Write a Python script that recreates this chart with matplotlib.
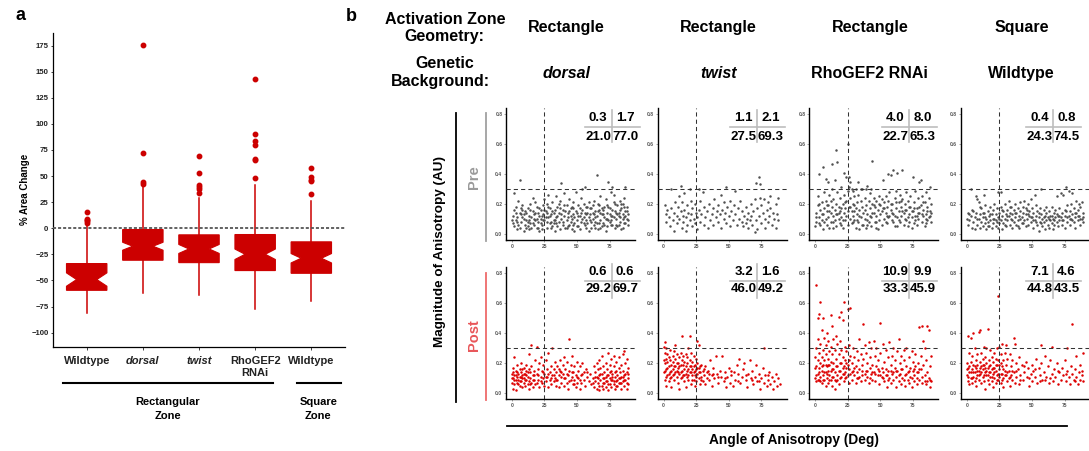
import numpy as np
import matplotlib.pyplot as plt
from matplotlib.lines import Line2D

plt.rcParams['font.family'] = ['Liberation Sans', 'DejaVu Sans']
plt.rcParams['font.weight'] = 'bold'

# ---------------- panel a: % area change ----------------
groups = ['Wildtype', 'dorsal', 'twist', 'RhoGEF2\nRNAi', 'Wildtype']
group_italic = [False, True, True, False, False]
q1 = [-59.4, -30.6, -32.9, -40.5, -43.1]
med = [-49.1, -17.2, -19.8, -24.9, -28.7]
q3 = [-33.8, -1.2, -6.3, -6.0, -13.0]
whislo = [-81, -62, -64, -77, -70]
whishi = [3, 39.3, 29.1, 41.8, 26.5]
notch = [6.4, 3.8, 4.3, 5.0, 4.5]
fliers = [
    [15.7, 9.3, 8.0, 6.5, 5.5],
    [175.3, 71.9, 44.1, 42.5],
    [69.3, 52.7, 41.2, 39.3, 37.7, 33.5],
    [143.4, 90.4, 83.7, 79.8, 66.4, 65.5, 48.5],
    [57.5, 48.9, 46.6, 45.0, 32.6],
]

# ---------------- panel b: anisotropy ----------------
col_geometry = ['Rectangle', 'Rectangle', 'Rectangle', 'Square']
col_background = ['dorsal', 'twist', 'RhoGEF2 RNAi', 'Wildtype']
background_italic = [True, True, False, False]

# quadrant percentages [[top-left, top-right], [bottom-left, bottom-right]]
pre_quad = [[[0.3, 1.7], [21.0, 77.0]], [[1.1, 2.1], [27.5, 69.3]],
            [[4.0, 8.0], [22.7, 65.3]], [[0.4, 0.8], [24.3, 74.5]]]
post_quad = [[[0.6, 0.6], [29.2, 69.7]], [[3.2, 1.6], [46.0, 49.2]],
             [[10.9, 9.9], [33.3, 45.9]], [[7.1, 4.6], [44.8, 43.5]]]

# (angle in deg, magnitude x 100)
pre_dorsal = [
    (1,12),(2,5),(2,27),(3,9),(3,18),(4,3),(4,11),(1,7),(5,22),(6,36),(6,4),(7,13),(7,8),(8,16),(9,2),(9,10),(8,19),
    (10,6),(11,14),(11,9),(12,17),(12,5),(13,12),(14,20),(14,7),(13,3),(15,11),(16,15),(16,24),(17,6),(17,13),(18,9),(19,18),(19,4),(18,21),
    (20,8),(21,12),(21,2),(22,16),(22,10),(23,6),(24,19),(24,13),(23,3),(25,23),(25,9),(26,15),(27,4),(27,20),(28,11),(29,7),(29,17),(28,26),
    (30,13),(31,5),(31,21),(32,9),(33,16),(33,2),(34,11),(34,25),(32,7),(35,18),(36,8),(36,14),(37,3),(37,22),(38,34),(38,10),(39,6),(39,16),
    (40,12),(40,27),(41,4),(42,19),(42,9),(43,14),(44,6),(44,23),(43,11),(45,17),(46,3),(46,10),(47,21),(47,13),(48,7),(49,15),(49,28),(48,2),
    (50,9),(51,19),(51,5),(52,12),(53,24),(53,8),(54,16),(54,30),(52,3),(55,11),(56,31),(56,6),(57,18),(57,9),(58,14),(59,2),(59,21),(58,7),
    (60,13),(61,4),(61,17),(62,10),(63,22),(63,6),(64,15),(64,8),(65,39),(65,12),(66,20),(66,3),(67,16),(68,9),(68,25),(69,5),(69,13),(67,19),
    (70,7),(71,18),(71,11),(72,2),(72,23),(73,14),(74,35),(74,9),(73,5),(75,17),(76,28),(76,6),(77,31),(77,12),(78,21),(79,4),(79,15),(78,26),(76,9),
    (80,10),(81,19),(81,5),(82,14),(83,22),(83,8),(84,17),(84,3),(82,12),(85,20),(86,11),(86,24),(87,31),(87,7),(88,15),(88,10),(86,18),(85,4),(89,13),
    (0,9),(3,14),(5,6),(8,11),(10,15),(12,8),(15,4),(17,10),(20,14),(22,7),(26,11),(27,14),(30,8),(32,14),(35,5),(38,13),(41,15),(43,5),
    (45,12),(47,6),(50,14),(52,17),(55,7),(57,13),(60,9),(62,19),(64,11),(67,7),(69,17),(70,13),(72,10),(73,19),(75,8),(77,16),(80,6),
    (81,13),(83,16),(85,10),(87,12),(89,6),(36,20),(46,18),(55,20),(62,14),(68,14),(78,11),(84,20),(18,14),(24,9),(29,12),
]
pre_dorsal_more = [
    (2,16),(4,8),(6,14),(9,13),(11,4),(13,9),(16,7),(19,10),(21,17),(23,12),(25,16),(27,8),(28,18),(30,4),(31,15),(33,9),(35,12),
    (37,17),(39,8),(40,19),(42,4),(44,15),(45,8),(47,17),(48,11),(50,5),(51,12),(53,14),(54,10),(56,14),(57,4),(59,11),(60,17),(61,8),
    (63,13),(65,7),(66,15),(68,4),(70,16),(71,6),(73,10),(74,18),(75,13),(77,6),(79,20),(80,14),(82,6),(83,11),(85,13),(86,7),(88,18),
    (89,9),(7,17),(14,16),(34,7),(58,18),(64,4),(76,12),(87,15),(20,4),
]
pre_twist = [
    (1,19),(2,13),(2,8),(3,16),(4,11),(5,5),(6,30),(6,17),(7,9),(8,14),(8,2),(9,21),(10,12),(10,7),(11,18),(12,25),(12,10),(13,32),
    (13,15),(14,4),(14,21),(15,12),(15,8),(16,27),(16,16),(17,11),(17,2),(18,19),(18,6),(19,14),(20,30),(20,9),(21,22),(21,13),(22,5),
    (22,17),(23,10),(24,20),(24,7),(25,14),(26,3),(26,11),(27,30),(27,16),(28,22),(28,8),(29,13),(30,28),(31,18),(31,6),(32,11),(33,15),
    (34,4),(35,20),(36,9),(37,13),(38,17),(38,6),(39,23),(40,11),(41,15),(42,8),(42,19),(43,13),(44,26),(44,4),(45,16),(46,10),(46,21),
    (47,14),(48,31),(48,7),(49,18),(50,12),(51,22),(51,5),(52,15),(53,9),(54,19),(55,29),(55,13),(56,6),(57,17),(58,10),(59,22),(60,8),
    (60,15),(61,5),(62,12),(63,18),(63,7),(64,10),(65,14),(65,4),(66,9),(67,20),(67,12),(68,6),(69,15),(70,1),(70,23),(71,34),(71,9),
    (72,17),(72,3),(73,38),(73,12),(74,33),(74,24),(75,7),(75,19),(76,14),(77,23),(78,10),(78,4),(79,16),(80,21),(80,8),(81,12),(82,25),
    (82,17),(83,6),(84,14),(85,10),(86,20),(86,4),(87,13),(88,9),(88,24),
]
pre_rho = [
    (0,5),(1,8),(1,14),(2,19),(2,25),(3,40),(3,11),(4,6),(4,16),(5,21),(5,9),(6,45),(6,13),(6,3),(7,28),(7,17),(8,37),(8,10),(8,22),
    (9,6),(9,15),(10,35),(10,19),(10,11),(11,4),(11,26),(12,14),(12,8),(13,47),(13,18),(13,30),(14,12),(14,23),(15,36),(15,9),(15,16),
    (16,56),(16,20),(16,5),(17,48),(17,13),(17,28),(18,10),(18,18),(19,24),(19,7),(19,15),(20,31),(20,11),(21,20),(21,4),(22,41),(22,14),
    (22,26),(23,9),(23,17),(24,38),(24,22),(24,12),(25,60),(25,29),(25,6),(26,38),(26,18),(26,31),(27,10),(27,24),(27,35),(28,15),(28,30),
    (28,7),(29,20),(29,12),(29,29),(30,25),(30,9),(31,17),(31,30),(31,4),(32,21),(32,13),(33,35),(33,8),(33,26),(34,16),(34,3),(35,22),
    (35,11),(36,30),(36,18),(37,6),(37,14),(38,24),(38,10),(39,19),(39,4),(40,32),(40,13),(41,22),(41,8),(42,17),(42,27),(43,11),(43,5),
    (44,49),(44,20),(45,14),(45,24),(46,8),(46,18),(47,22),(47,12),(48,3),(48,16),(49,25),(49,9),(50,19),(50,13),(51,23),(51,6),(52,36),
    (52,17),(53,21),(53,10),(54,14),(54,25),(55,7),(55,18),(56,40),(56,22),(57,12),(57,28),(58,39),(58,16),(59,9),(59,20),(60,43),(60,13),
    (61,24),(61,5),(62,17),(62,29),(63,41),(63,11),(64,21),(64,15),(65,8),(65,26),(66,18),(66,12),(67,43),(67,23),(68,14),(68,6),(69,20),
    (69,10),(70,28),(70,16),(71,5),(71,22),(72,13),(72,8),(73,25),(73,18),(74,11),(74,4),(75,38),(75,15),(76,21),(76,7),(77,12),(77,29),
    (78,17),(78,6),(79,24),(79,10),(80,35),(80,14),(81,36),(81,19),(82,8),(82,25),(83,12),(83,16),(84,5),(84,21),(85,13),(85,28),(86,9),
    (86,18),(87,24),(87,11),(88,31),(88,15),(89,8),(89,20),(35,30),(39,30),(43,30),(3,7),(14,4),(20,6),(30,15),(40,6),(47,4),(55,12),
    (63,5),(70,9),(78,12),(85,7),(60,8),
]
pre_rho_more = [
    (1,11),(3,20),(5,13),(7,8),(9,19),(11,15),(12,22),(14,8),(16,13),(18,14),(20,17),(21,9),(23,21),(25,15),(27,18),(29,8),(30,19),
    (32,9),(34,12),(36,6),(38,16),(40,9),(42,12),(44,14),(45,19),(47,8),(49,20),(51,15),(53,17),(54,8),(56,11),(58,20),(59,14),(61,12),
    (62,21),(64,9),(66,22),(67,15),(69,16),(71,11),(72,18),(74,15),(76,17),(77,9),(79,14),(80,18),(82,13),(83,21),(85,10),(86,15),
    (88,12),(89,14),
]
pre_square = [
    (0,10),(1,14),(1,6),(2,9),(3,30),(3,12),(4,4),(4,16),(5,8),(6,11),(6,3),(7,25),(7,14),(8,23),(8,6),(9,21),(9,10),(10,13),(10,4),
    (11,8),(11,17),(12,11),(12,5),(13,26),(13,14),(14,7),(14,19),(15,10),(15,3),(16,15),(16,8),(17,12),(17,5),(18,18),(18,9),(19,4),
    (19,13),(20,16),(20,7),(21,10),(21,20),(22,5),(22,13),(23,8),(23,17),(24,28),(24,11),(24,4),(25,14),(25,7),(26,28),(26,9),(26,18),
    (27,12),(27,3),(28,15),(28,7),(29,10),(29,20),(30,13),(30,5),(31,16),(31,9),(32,12),(32,22),(33,6),(33,14),(34,10),(34,18),(35,4),
    (35,13),(36,8),(36,16),(37,20),(37,11),(38,6),(38,14),(39,9),(39,17),(40,12),(40,4),(41,15),(41,21),(42,7),(42,11),(43,18),(43,14),
    (44,22),(44,9),(45,5),(45,13),(46,16),(46,10),(47,20),(47,6),(48,12),(48,15),(49,23),(49,8),(50,17),(50,11),(51,4),(51,14),(52,26),
    (52,9),(53,19),(53,12),(54,6),(54,15),(55,11),(55,2),(56,17),(56,8),(57,30),(57,13),(58,10),(58,5),(59,16),(59,8),(60,12),(60,3),
    (61,9),(61,14),(62,6),(62,11),(63,15),(63,4),(64,9),(64,12),(65,7),(65,18),(66,10),(66,3),(67,14),(67,6),(68,11),(68,16),(69,25),
    (69,8),(70,12),(70,5),(71,17),(71,9),(72,27),(72,11),(73,6),(73,14),(74,26),(74,9),(75,12),(75,4),(76,31),(76,15),(77,8),(77,19),
    (78,29),(78,12),(79,6),(79,15),(80,10),(80,20),(81,27),(81,13),(82,8),(82,17),(83,11),(83,4),(84,22),(84,14),(85,9),(85,16),(86,20),
    (86,12),(87,6),(87,18),(88,21),(88,10),(89,14),(89,8),
]
pre_square_more = [
    (2,13),(5,15),(8,10),(10,18),(12,14),(14,11),(16,5),(18,13),(20,10),(22,9),(25,10),(27,16),(29,6),(31,12),(33,18),(35,9),(37,14),
    (39,5),(41,10),(43,7),(45,17),(47,13),(49,11),(51,9),(53,8),(55,14),(57,7),(59,11),(61,18),(63,10),(65,12),(67,9),(69,13),(71,12),
    (73,9),(75,16),(77,11),(79,10),(81,9),(83,14),(85,12),(87,10),(89,11),
]
post_dorsal = [
    (0,13),(0,7),(1,17),(1,10),(1,3),(2,12),(2,24),(2,6),(3,15),(3,9),(3,2),(4,11),(4,19),(4,7),(5,13),(5,9),(6,16),(6,5),(6,11),(7,8),
    (7,14),(7,20),(8,10),(8,4),(8,12),(9,7),(9,17),(9,10),(10,13),(10,5),(11,9),(11,19),(11,15),(12,6),(12,11),(13,16),(13,3),(13,26),
    (14,10),(14,14),(15,32),(15,7),(15,18),(16,12),(16,4),(17,15),(17,9),(18,22),(18,6),(19,31),(19,13),(20,9),(20,16),(21,4),(21,20),
    (22,11),(22,24),(23,7),(23,15),(24,19),(24,10),(25,5),(25,13),(26,22),(26,8),(27,16),(27,11),(28,27),(28,4),(29,14),(29,9),(30,18),
    (30,6),(31,30),(31,12),(32,16),(32,8),(33,10),(33,21),(34,5),(34,14),(35,18),(35,9),(36,12),(36,4),(37,15),(37,22),(38,7),(38,11),
    (39,19),(39,13),(40,5),(40,24),(41,10),(41,16),(42,7),(42,21),(43,12),(43,3),(44,36),(44,15),(45,9),(45,19),(46,25),(46,11),(47,6),
    (47,14),(48,18),(48,9),(49,4),(49,12),(50,21),(50,7),(51,15),(51,10),(52,3),(52,18),(53,12),(53,7),(54,20),(55,9),(55,14),(56,5),
    (57,16),(58,11),(59,8),(60,13),(61,6),(62,10),(63,18),(63,4),(64,14),(64,8),(65,20),(65,11),(65,3),(66,16),(66,7),(67,22),(67,12),
    (67,2),(68,9),(68,17),(69,5),(69,13),(69,25),(70,10),(70,18),(70,3),(71,14),(71,7),(72,20),(72,11),(72,4),(73,16),(73,8),(74,27),
    (74,12),(74,2),(75,19),(75,6),(75,10),(76,15),(76,23),(76,4),(77,9),(77,13),(78,18),(78,6),(78,25),(79,11),(79,3),(80,15),(80,8),
    (80,21),(81,12),(81,5),(82,17),(82,10),(82,24),(83,7),(83,14),(84,19),(84,3),(84,11),(85,26),(85,8),(85,15),(86,28),(86,12),(86,5),
    (87,20),(87,9),(88,14),(88,3),(88,23),(89,10),(89,17),(89,6),
]
post_dorsal_more = [
    (0,10),(1,14),(2,9),(3,12),(4,14),(5,6),(6,8),(7,11),(8,16),(9,13),(10,9),(11,12),(12,14),(13,8),(14,6),(16,9),(17,12),(19,7),
    (20,12),(22,8),(24,14),(26,11),(28,13),(30,10),(32,12),(34,9),(36,16),(38,14),(40,10),(42,13),(44,8),(46,14),(48,6),(50,11),(52,9),
    (54,13),(58,14),(62,7),(64,11),(66,10),(67,5),(68,13),(70,7),(71,10),(72,8),(73,12),(74,6),(75,14),(76,9),(77,11),(78,8),(79,14),
    (80,5),(81,9),(82,7),(83,10),(84,7),(85,11),(86,9),(87,13),(88,7),(89,13),
]
post_twist = [
    (0,31),(0,22),(0,14),(1,34),(1,20),(1,27),(1,9),(2,23),(2,30),(2,16),(2,5),(3,21),(3,26),(3,12),(4,18),(4,24),(4,8),(5,22),(5,14),
    (5,29),(6,19),(6,11),(6,4),(7,25),(7,16),(7,21),(8,13),(8,28),(8,9),(9,32),(9,18),(9,23),(10,15),(10,26),(10,11),(11,20),(11,7),
    (11,17),(12,24),(12,13),(12,3),(13,19),(13,27),(13,10),(14,22),(14,15),(14,38),(15,12),(15,25),(15,19),(16,8),(16,21),(16,16),(17,26),
    (17,13),(17,4),(18,20),(18,11),(18,24),(19,16),(19,30),(19,9),(20,38),(20,14),(20,22),(21,18),(21,6),(21,27),(22,12),(22,21),(22,16),
    (23,9),(23,25),(23,14),(24,19),(24,5),(24,12),(25,23),(25,16),(25,8),(26,35),(26,13),(26,20),(27,32),(27,10),(27,17),(28,14),(28,6),
    (29,19),(29,11),(30,15),(30,8),(31,12),(32,18),(32,6),(33,10),(34,15),(35,9),(36,22),(37,12),(37,5),(38,17),(39,10),(40,25),(41,13),
    (42,7),(43,15),(44,11),(45,25),(46,8),(47,14),(48,4),(49,11),(50,17),(51,7),(52,12),(53,5),(54,14),(55,9),(56,19),(57,13),(58,23),
    (59,7),(60,11),(61,16),(62,20),(63,9),(64,4),(65,13),(66,22),(67,10),(68,15),(69,6),(70,11),(71,19),(72,8),(73,13),(74,3),(75,10),
    (76,17),(77,30),(77,7),(78,12),(79,5),(80,9),(81,14),(82,6),(83,11),(84,3),(85,8),(86,13),(87,5),(88,10),(89,6),
]
post_twist_more = [
    (1,15),(2,11),(3,17),(4,13),(5,10),(6,15),(7,12),(8,18),(9,14),(10,20),(11,14),(12,18),(13,14),(14,11),(16,12),(17,18),(18,15),
    (19,12),(20,18),(21,14),(22,9),(23,18),(24,15),(25,11),(26,17),(27,14),(28,18),(29,9),(31,16),(33,14),(35,13),(38,13),(42,11),
    (47,10),(52,15),(57,8),(63,12),(68,9),(73,8),(80,12),
]
post_rho = [
    (0,10),(0,24),(1,72),(1,8),(1,30),(1,18),(2,50),(2,13),(2,36),(2,22),(3,53),(3,9),(3,27),(3,17),(4,61),(4,11),(4,33),(4,20),(5,42),
    (5,7),(5,24),(5,15),(6,50),(6,12),(6,29),(6,19),(7,37),(7,9),(7,22),(8,32),(8,14),(8,26),(8,5),(9,40),(9,18),(9,10),(10,35),(10,23),
    (10,7),(10,15),(11,28),(11,12),(11,19),(12,52),(12,9),(12,31),(12,21),(13,45),(13,5),(13,16),(13,26),(14,36),(14,11),(14,20),(15,3),
    (15,29),(15,14),(16,38),(16,8),(16,23),(17,18),(17,33),(17,12),(18,51),(18,6),(18,26),(19,15),(19,35),(19,10),(20,54),(20,20),(20,29),
    (21,49),(21,13),(21,24),(22,61),(22,8),(22,18),(23,31),(23,14),(23,22),(24,17),(24,28),(24,11),(25,56),(25,19),(25,12),(26,32),(26,16),
    (26,7),(27,57),(27,25),(27,13),(28,20),(28,9),(29,30),(29,15),(30,12),(30,24),(31,18),(31,7),(32,28),(32,14),(33,10),(33,22),(34,36),
    (34,16),(35,8),(35,26),(36,19),(36,12),(37,46),(37,23),(38,9),(38,32),(39,15),(39,27),(40,11),(40,20),(41,34),(41,7),(42,17),(42,24),
    (43,13),(43,30),(44,9),(44,19),(45,35),(45,14),(46,25),(46,8),(47,18),(47,30),(48,12),(48,22),(49,15),(49,6),(50,47),(50,27),(51,17),
    (51,11),(52,33),(52,14),(53,21),(53,8),(54,16),(54,29),(55,12),(55,4),(56,24),(56,15),(57,34),(57,10),(58,19),(58,7),(59,25),(59,13),
    (60,30),(60,9),(61,17),(61,22),(62,11),(62,4),(63,28),(63,15),(64,36),(64,8),(65,20),(65,13),(66,6),(66,25),(67,16),(67,10),(68,22),
    (68,29),(69,12),(69,5),(70,18),(70,30),(71,9),(71,14),(72,24),(72,7),(73,17),(73,11),(74,28),(74,4),(75,15),(75,21),(76,8),(76,12),
    (77,26),(77,18),(78,10),(78,6),(79,20),(79,14),(80,44),(80,9),(81,25),(81,16),(82,45),(82,7),(83,35),(83,19),(84,12),(84,30),(85,22),
    (85,6),(86,45),(86,14),(87,42),(87,10),(88,18),(88,4),(89,25),(89,8),
]
post_rho_more = [
    (0,17),(1,12),(2,9),(3,14),(4,8),(5,18),(6,9),(7,14),(8,19),(9,13),(10,19),(11,9),(12,15),(13,11),(14,16),(15,9),(16,18),(17,9),
    (18,15),(19,20),(20,11),(21,17),(22,13),(23,10),(24,20),(26,22),(28,14),(30,17),(32,10),(34,11),(36,15),(38,13),(40,15),(42,10),
    (44,14),(46,13),(48,16),(50,12),(52,10),(54,12),(56,9),(58,15),(60,14),(62,15),(64,12),(66,16),(68,9),(70,13),(72,15),(74,10),
    (76,16),(78,14),(80,16),(82,11),(84,8),(86,8),(88,9),
]
post_square = [
    (0,20),(0,12),(1,38),(1,8),(1,17),(2,27),(2,14),(2,6),(3,37),(3,21),(3,10),(4,25),(4,16),(4,7),(5,40),(5,19),(5,11),(6,30),(6,14),
    (6,8),(7,22),(7,17),(7,5),(8,26),(8,12),(8,19),(9,41),(9,15),(9,9),(10,42),(10,21),(10,13),(11,18),(11,7),(11,27),(12,23),(12,11),
    (12,16),(13,31),(13,19),(13,8),(14,14),(14,24),(14,3),(15,20),(15,12),(15,30),(16,43),(16,17),(16,9),(17,22),(17,14),(17,6),(18,29),
    (18,11),(18,19),(19,16),(19,8),(19,24),(20,13),(20,21),(20,4),(21,27),(21,10),(21,17),(22,15),(22,23),(22,7),(23,19),(23,12),(23,30),
    (24,65),(24,22),(24,9),(25,31),(25,16),(25,11),(26,20),(26,7),(26,26),(27,33),(27,13),(27,18),(28,10),(28,22),(28,4),(29,15),(29,27),
    (30,32),(30,12),(30,19),(31,8),(31,23),(32,15),(32,10),(33,26),(33,5),(34,18),(34,12),(35,9),(35,22),(36,37),(36,14),(37,33),(37,7),
    (38,20),(38,11),(39,16),(40,6),(40,24),(41,12),(42,19),(43,9),(44,14),(45,21),(46,11),(47,17),(48,5),(49,13),(50,8),(50,19),(51,15),
    (52,11),(53,23),(54,7),(55,17),(56,12),(57,32),(57,20),(58,9),(59,14),(60,25),(61,11),(62,18),(63,7),(64,22),(65,31),(65,13),(66,8),
    (67,16),(68,11),(69,20),(70,6),(71,14),(72,9),(73,17),(74,12),(75,22),(76,8),(77,30),(77,15),(78,11),(79,6),(80,18),(81,46),(81,13),
    (82,9),(83,16),(84,25),(84,11),(85,6),(86,14),(87,19),(87,9),(88,12),(89,27),(89,8),
]
post_square_more = [
    (0,16),(1,11),(2,18),(3,14),(4,10),(5,14),(6,18),(7,10),(8,15),(9,12),(10,17),(11,14),(12,19),(13,12),(14,17),(15,15),(16,12),
    (17,18),(18,14),(19,11),(20,17),(21,14),(22,19),(23,9),(24,13),(25,19),(26,13),(27,9),(28,16),(29,12),(31,14),(33,11),(35,15),
    (38,15),(41,9),(44,18),(48,10),(52,16),(56,8),(60,9),(64,10),(70,15),(76,13),(83,8),(88,15),
]
pre_points = [pre_dorsal + pre_dorsal_more, pre_twist, pre_rho + pre_rho_more, pre_square + pre_square_more]
post_points = [post_dorsal + post_dorsal_more, post_twist + post_twist_more,
               post_rho + post_rho_more, post_square + post_square_more]

RED = '#cc0000'
W, H = 1089, 451
fig = plt.figure(figsize=(W / 100, H / 100), dpi=100)


# pixel helpers (origin top-left)
def fx(x):
    return x / W


def fy(y):
    return 1 - y / H


def px_axes(x0, y0, x1, y1):
    return fig.add_axes([fx(x0), fy(y1), (x1 - x0) / W, (y1 - y0) / H])


def px_line(xs, ys, **kw):
    fig.add_artist(Line2D([fx(x) for x in xs], [fy(y) for y in ys],
                          transform=fig.transFigure, **kw))


def px_text(x, y, s, **kw):
    kw.setdefault('ha', 'center')
    kw.setdefault('va', 'center')
    fig.text(fx(x), fy(y), s, **kw)


# ---------- panel a ----------
ax = px_axes(53, 33, 345, 347)
stats = []
for i in range(len(groups)):
    stats.append(dict(med=med[i], q1=q1[i], q3=q3[i], whislo=whislo[i], whishi=whishi[i],
                      cilo=med[i] - notch[i], cihi=med[i] + notch[i], fliers=fliers[i]))
ax.bxp(stats, positions=range(1, 6), widths=0.72, shownotches=True, patch_artist=True,
       showcaps=False,
       boxprops=dict(facecolor=RED, edgecolor=RED, linewidth=0.8),
       whiskerprops=dict(color=RED, linewidth=1.1),
       medianprops=dict(color=RED, linewidth=0),
       flierprops=dict(marker='o', markerfacecolor=RED, markeredgecolor=RED, markersize=3.2))
ax.axhline(0, color='#555555', ls=(0, (1.7, 1.1)), lw=1.3, zorder=5)
ax.set_xlim(0.4, 5.6)
ax.set_ylim(-113.7, 187)
ax.set_yticks(range(-100, 176, 25))
ax.set_xticks(range(1, 6))
ax.set_xticklabels(groups, fontsize=8, fontweight='bold', linespacing=1.3)
for lab, it in zip(ax.get_xticklabels(), group_italic):
    if it:
        lab.set_fontstyle('italic')
for lab in ax.get_yticklabels():
    lab.set_fontsize(5.6)
    lab.set_fontweight('bold')
ax.tick_params(axis='y', length=1.8, width=0.6, pad=1.5, colors='#222222')
ax.tick_params(axis='x', length=1.8, width=0.6, pad=4.5, colors='#222222')
for s in ['top', 'right']:
    ax.spines[s].set_visible(False)
for s in ['left', 'bottom']:
    ax.spines[s].set_linewidth(0.9)
px_text(25, 189, '% Area Change', rotation=90, fontsize=7, fontweight='bold')
px_line([63.3, 272.7], [383.3, 383.3], color='black', lw=1.5)
px_line([296.7, 340.7], [383.3, 383.3], color='black', lw=1.5)
px_text(167.7, 409, 'Rectangular\nZone', fontsize=8, linespacing=1.4)
px_text(318.3, 409, 'Square\nZone', fontsize=8, linespacing=1.4)
px_text(20, 16, 'a', fontsize=13)

# ---------- panel b ----------
px_text(351, 16.7, 'b', fontsize=13)
hdr = 11.5
px_text(445, 19, 'Activation Zone', fontsize=hdr)
px_text(444, 36.7, 'Geometry:', fontsize=hdr)
px_text(445, 63.3, 'Genetic', fontsize=hdr)
px_text(440, 81.7, 'Background:', fontsize=hdr)

col_left = [506, 657.7, 809.3, 961]
row_top = [108, 267.3]
pw, ph = 129, 132
table_sep = [611.7, 757, 909, 1053]
# offsets from row top: text rows, h-line, v-line start/end
table_off = [(10, 28.5, 18.7, 2, 34), (4.4, 22.2, 13.2, -3.8, 30.2)]

for c in range(4):
    cx = col_left[c] + pw / 2 - 4
    px_text(cx, 27.7, col_geometry[c], fontsize=hdr)
    px_text(cx, 73.3, col_background[c], fontsize=hdr,
            fontstyle='italic' if background_italic[c] else 'normal')
    for r, (pts, quad, col) in enumerate([(pre_points[c], pre_quad[c], '#505050'),
                                          (post_points[c], post_quad[c], '#dd0000')]):
        a = px_axes(col_left[c], row_top[r], col_left[c] + pw, row_top[r] + ph)
        ang = np.array([p[0] for p in pts])
        mag = np.array([p[1] for p in pts]) / 100
        a.scatter(ang, mag, s=3.2, c=col, linewidths=0, zorder=2)
        a.axvline(25, color='#333333', ls=(0, (4, 3)), lw=0.75, zorder=3)
        a.axhline(0.3, color='#333333', ls=(0, (4, 3)), lw=0.75, zorder=3)
        a.set_xlim(-4.5, 94.5)
        a.set_ylim(-0.04, 0.84)
        a.set_xticks([0, 25, 50, 75])
        a.set_yticks([0, 0.2, 0.4, 0.6, 0.8])
        a.set_yticklabels(['0.0', '0.2', '0.4', '0.6', '0.8'])
        a.tick_params(labelsize=3.6, length=1.5, width=0.4, pad=1.2,
                      colors='#666666', labelcolor='#555555')
        for s in ['top', 'right']:
            a.spines[s].set_visible(False)
        for s in ['left', 'bottom']:
            a.spines[s].set_linewidth(1.0)
        # quadrant table
        t1, t2, th, v0, v1 = table_off[r]
        sx = table_sep[c]
        top = row_top[r]
        px_line([sx - 27, sx + 28], [top + th, top + th], color='#bdbdbd', lw=1.2)
        px_line([sx, sx], [top + v0, top + v1], color='#bdbdbd', lw=1.2)
        for ri, ty in enumerate([t1, t2]):
            px_text(sx - 13.5, top + ty, f'{quad[ri][0]:.1f}', fontsize=9.5)
            px_text(sx + 13.5, top + ty, f'{quad[ri][1]:.1f}', fontsize=9.5)

px_text(474, 176.7, 'Pre', rotation=90, fontsize=10.5, color='#9a9a9a')
px_text(474, 335, 'Post', rotation=90, fontsize=10.5, color='#e8575a')
px_line([486, 486], [113.3, 240.7], color='#a0a0a0', lw=1.3)
px_line([486, 486], [272.7, 400], color='#ee6a6a', lw=1.3)
px_line([456, 456], [113, 401.7], color='black', lw=1.3)
px_text(440, 251.7, 'Magnitude of Anisotropy (AU)', rotation=90, fontsize=9.7)
px_line([506.7, 1066.7], [426, 426], color='black', lw=1.3)
px_text(794, 440, 'Angle of Anisotropy (Deg)', fontsize=9.9)

fig.savefig('out.png', dpi=100)
